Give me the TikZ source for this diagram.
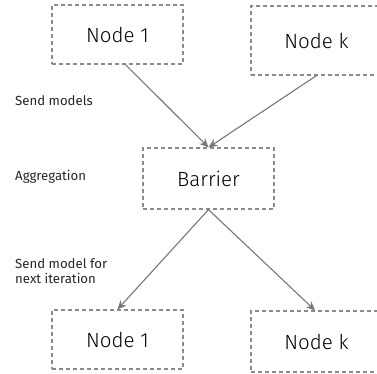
\documentclass[tikz,border=0pt]{standalone}
\usepackage{fontspec}
\setmainfont{Fira Sans}
\newfontfamily\boxfont{Fira Sans Light}
\usetikzlibrary{arrows.meta}
\definecolor{boxgray}{HTML}{8A8A8A}
\definecolor{linegray}{HTML}{777777}
\tikzset{
  box/.style={draw=boxgray, line width=1.2pt, dash pattern=on 4pt off 3pt, inner sep=0pt,
    minimum width=131pt, font=\boxfont\fontsize{20.5}{24}\selectfont, text=black},
  lab/.style={anchor=west, align=left, inner sep=0pt, font=\fontsize{13.2}{15.5}\selectfont, text=black!85},
  conn/.style={draw=linegray, line width=1.1pt, -{Stealth[length=9pt,width=8pt]}}
}
\begin{document}
\begin{tikzpicture}[x=1pt,y=-1pt]
\useasboundingbox (0,0) rectangle (377,373);
\node[box, minimum height=59pt] (n1t) at (117.5,34.5) {Node 1};
\node[box, minimum height=69pt] (nkt) at (316.5,40.5) {Node k};
\node[box, minimum height=61pt] (bar) at (208.5,178.5) {Barrier};
\node[box, minimum height=59pt] (n1b) at (117.5,339.5) {Node 1};
\node[box, minimum height=61pt] (nkb) at (316.5,341.5) {Node k};
\node[lab] (l1) at (15,101) {Send models};
\node[lab] (l2) at (15,177) {Aggregation};
\node[lab] (l3) at (15,271) {Send model for\\next iteration};
\draw[conn] ([xshift=8pt]n1t.south) -- (bar.north);
\draw[conn] (nkt.south) -- (bar.north);
\draw[conn] (bar.south) -- (n1b.north);
\draw[conn] (bar.south) -- ([xshift=-1.5pt]nkb.north);
\end{tikzpicture}
\end{document}
